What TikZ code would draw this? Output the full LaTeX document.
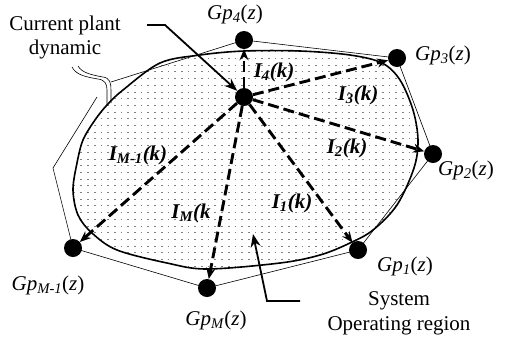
\documentclass[tikz,border=0pt]{standalone}
\usepackage{fontspec}
\setmainfont{Liberation Serif}
\usetikzlibrary{arrows.meta}
\begin{document}
\begin{tikzpicture}[x=1pt,y=-1pt,
  dot/.style={circle,fill=black,inner sep=0pt,minimum size=18pt},
  lbl/.style={font=\fontsize{21}{24}\selectfont,inner sep=0pt,align=center},
  ilbl/.style={font=\fontsize{21}{24}\selectfont\bfseries\itshape,inner sep=0pt},
  vec/.style={line width=2.9pt,dash pattern=on 11pt off 5pt,-{Stealth[length=11pt,width=9pt]}},
  pointer/.style={line width=1.8pt,-{Stealth[length=13pt,width=10pt]}},
  edge/.style={line width=0.6pt},
  region/.style={line width=1.6pt},
  grid/.style={line width=0.7pt,black!50,dash pattern=on 1.7pt off 5pt}]
\useasboundingbox (0,0) rectangle (505,341);
% operating region with dotted fill
\draw[region, path picture={
    \foreach \yy in {45,51.7,...,280} \draw[grid] (0,\yy) -- (505,\yy);
  }]
  plot[smooth cycle, tension=0.55] coordinates {
  (244,51) (300,51) (350,55) (382,63) (400,80) (413,110) (418,140) (414,168)
  (397,205) (373,230) (350,243) (320,255) (280,263) (207,269) (167,263)
  (117,250) (92,233) (78,215) (73,190) (77,163) (83,140) (95,120) (107,105)
  (123,90) (160,63) (200,55)};
% dots
\node[dot] (c) at (244,97) {};
\node[dot] (g4) at (244,40) {};
\node[dot] (g3) at (397,58) {};
\node[dot] (g2) at (433,154) {};
\node[dot] (g1) at (358,250) {};
\node[dot] (gm) at (207,288) {};
\node[dot] (gm1) at (73,248) {};
% outer polygon
\coordinate (brk) at (111,82);
\coordinate (bl) at (53,168);
\coordinate (lowend) at (97,97);
\draw[edge] (g4.center) -- (g3.center) -- (g2.center) -- (g1.center) -- (gm.center) -- (gm1.center) -- (bl) -- (lowend);
\draw[edge] (g4.center) -- (brk);
% break symbol
\draw[edge] (72,67) .. controls (76,75) and (86,77) .. (98,79) .. controls (105,80) and (107,84) .. (107,90) -- (107,105);
\draw[edge] (78,66) .. controls (82,73) and (92,75) .. (103,77) .. controls (110,78) and (111,83) .. (111,90) -- (111,103);
% vectors
\draw[vec] (c) -- (g4);
\draw[vec] (c) -- (g3);
\draw[vec] (c) -- (g2);
\draw[vec] (c) -- (g1);
\draw[vec] (c) -- (gm);
\draw[vec] (c) -- (gm1);
% pointers
\coordinate (cp1) at (147,25);
\coordinate (cp2) at (165,25);
\draw[pointer] (cp1) -- (cp2) -- (c);
\coordinate (s1) at (300,301);
\coordinate (s2) at (267,301);
\coordinate (s3) at (253,234);
\draw[pointer] (s1) -- (s2) -- (s3);
% labels
\node[lbl] (tcur) at (65,37) {Current plant\\dynamic};
\node[lbl,font=\fontsize{21}{25}\selectfont] (tsys) at (399,313) {System\\Operating region};
\node[lbl] (l4) at (235,14) {\textit{Gp}\textsubscript{\textit{4}}(\textit{z})};
\node[lbl] (l3) at (443,55) {\textit{Gp}\textsubscript{\textit{3}}(\textit{z})};
\node[lbl] (l2) at (466,170) {\textit{Gp}\textsubscript{\textit{2}}(\textit{z})};
\node[lbl] (l1) at (405,266) {\textit{Gp}\textsubscript{\textit{1}}(\textit{z})};
\node[lbl] (lm) at (216,320) {\textit{Gp}\textsubscript{\textit{M}}(\textit{z})};
\node[lbl] (lm1) at (48,285) {\textit{Gp}\textsubscript{\textit{M-1}}(\textit{z})};
\node[ilbl] (i4) at (274,72) {I\textsubscript{4}(k)};
\node[ilbl] (i3) at (358,95) {I\textsubscript{3}(k)};
\node[ilbl] (i2) at (347,148) {I\textsubscript{2}(k)};
\node[ilbl] (i1) at (292,203) {I\textsubscript{1}(k)};
\node[ilbl] (im) at (191,213) {I\textsubscript{M}(k};
\node[ilbl] (im1) at (138,155) {I\textsubscript{M-1}(k)};
\end{tikzpicture}
\end{document}
